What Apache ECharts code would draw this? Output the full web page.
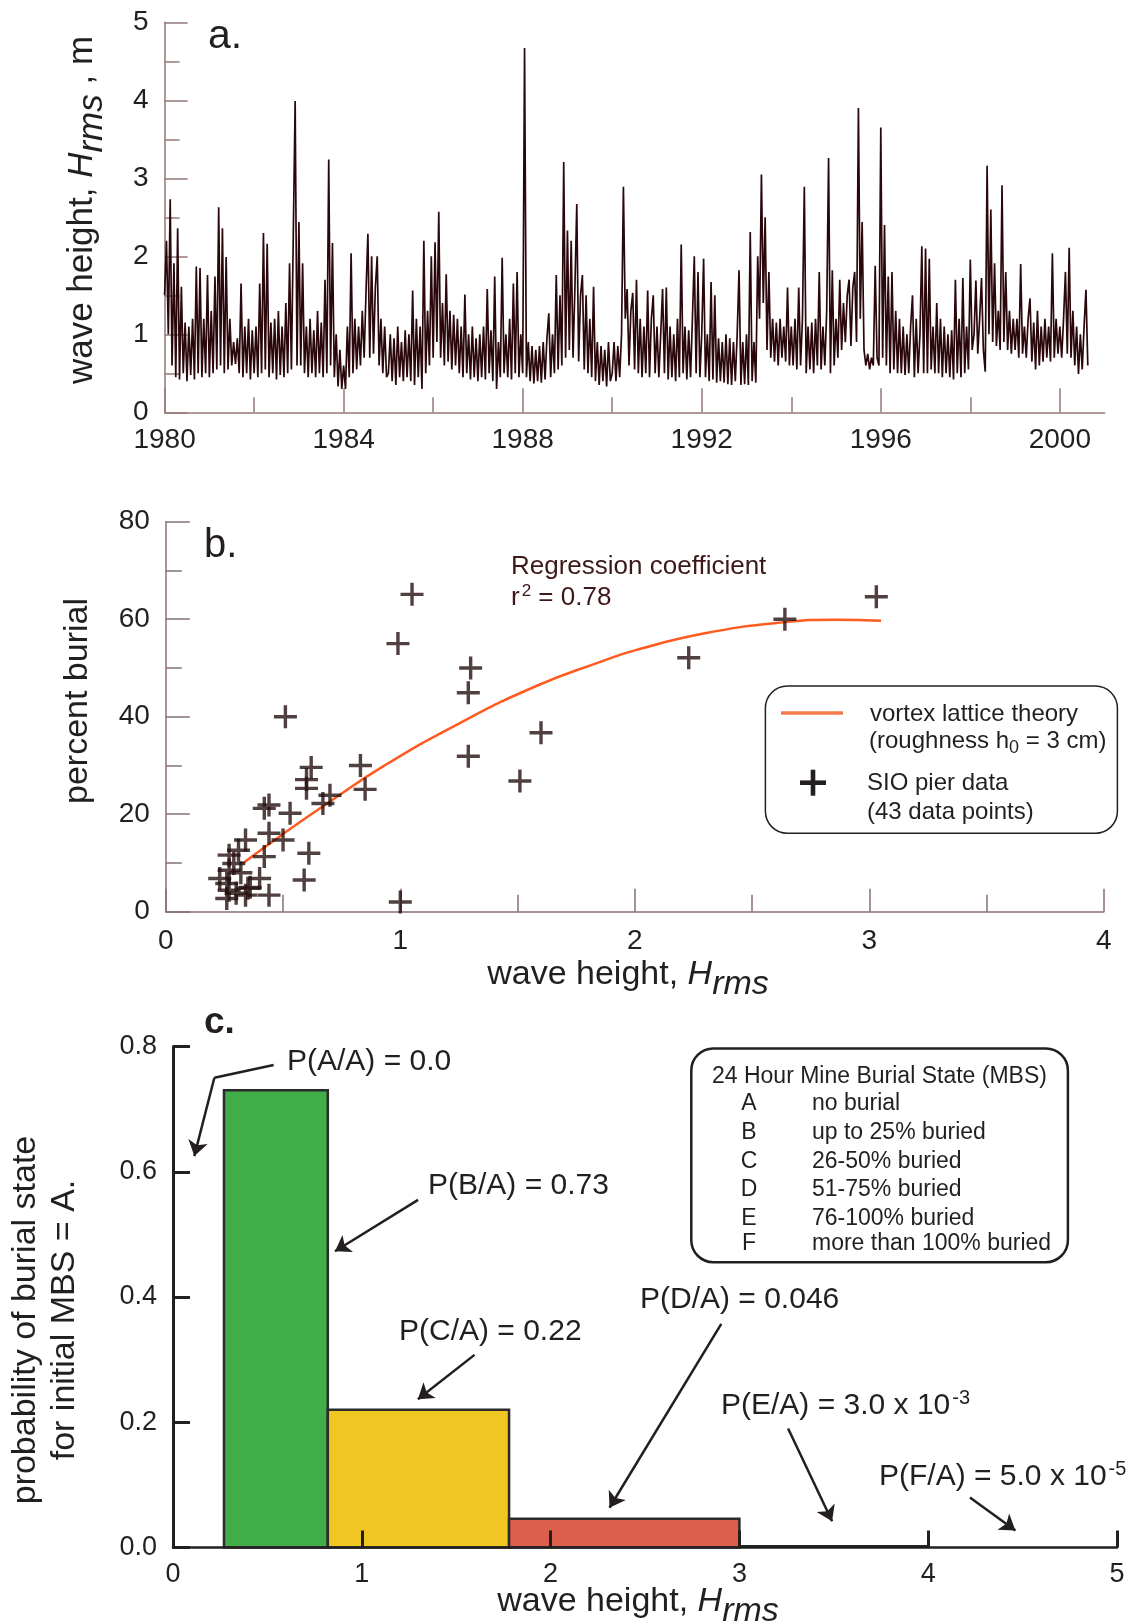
<!DOCTYPE html>
<html><head><meta charset="utf-8">
<script src="https://cdn.jsdelivr.net/npm/echarts@6/dist/echarts.min.js"></script>
<style>html,body{margin:0;padding:0;background:#fff}#c{width:1135px;height:1623px}</style>
</head><body><div id="c"></div>
<script>
// ---------- Panel a: wave height Hrms (m) in half-month steps ----------
const hrmsStartYear = 1980;
const hrmsStepsPerYear = 24;
const hrms1980 = [1.5, 2.2, 1.0, 2.73, 0.6, 1.91, 0.45, 2.36, 0.42, 1.61, 0.5, 1.15, 0.4, 1.1, 0.48, 1.2, 0.42, 1.87, 0.5, 1.85, 0.45, 1.2, 0.5, 1.76];
const hrms1981 = [0.45, 1.3, 0.5, 1.74, 0.55, 2.63, 0.6, 2.36, 0.5, 1.99, 0.55, 1.2, 0.6, 0.9, 0.62, 0.95, 0.5, 1.65, 0.45, 1.1, 0.5, 1.2, 0.42, 1.05];
const hrms1982 = [0.5, 1.1, 0.45, 1.65, 0.5, 2.3, 0.55, 2.16, 0.45, 1.15, 0.5, 1.2, 0.42, 1.3, 0.48, 1.1, 0.45, 1.4, 0.5, 1.91, 0.55, 2.27, 3.99, 0.6];
const hrms1983 = [2.44, 0.6, 1.91, 0.5, 1.1, 0.45, 1.2, 0.5, 1.05, 0.45, 1.3, 0.5, 1.15, 0.45, 1.7, 0.5, 3.24, 0.6, 2.17, 0.45, 1.0, 0.33, 0.8, 0.3];
const hrms1984 = [0.6, 0.3, 1.1, 0.45, 2.04, 0.5, 1.2, 0.55, 1.1, 0.6, 1.3, 0.7, 1.55, 2.29, 0.7, 2.0, 0.75, 1.6, 2.0, 0.6, 1.2, 0.5, 1.1, 0.45];
const hrms1985 = [0.5, 1.0, 0.4, 0.95, 0.35, 1.1, 0.45, 0.9, 0.4, 1.05, 0.45, 1.0, 0.4, 1.56, 0.35, 1.2, 0.45, 1.1, 0.3, 2.2, 0.5, 1.3, 0.6, 2.0];
const hrms1986 = [0.7, 2.18, 0.9, 2.57, 0.7, 1.4, 0.6, 1.77, 0.65, 1.3, 0.55, 1.25, 0.6, 1.2, 0.5, 1.1, 0.45, 1.51, 0.5, 1.0, 0.42, 1.1, 0.45, 0.95];
const hrms1987 = [0.4, 1.0, 0.45, 1.1, 0.42, 1.58, 0.5, 1.05, 0.4, 1.74, 0.3, 0.9, 0.45, 1.98, 0.5, 1.0, 0.45, 1.2, 0.42, 1.65, 0.5, 1.8, 0.45, 1.0];
const hrms1988 = [0.5, 4.67, 0.45, 0.9, 0.4, 0.85, 0.37, 0.8, 0.4, 0.85, 0.38, 0.9, 0.42, 0.95, 1.27, 0.45, 1.0, 0.5, 1.76, 0.55, 1.5, 0.6, 3.21, 0.7];
const hrms1989 = [2.33, 0.8, 2.2, 0.7, 1.6, 2.67, 0.65, 1.5, 1.76, 0.55, 1.5, 0.5, 1.2, 0.45, 1.61, 0.4, 0.9, 0.35, 0.85, 0.4, 0.8, 0.33, 0.9, 0.4];
const hrms1990 = [0.5, 0.9, 0.4, 0.85, 0.45, 1.0, 2.89, 1.2, 1.58, 0.6, 1.3, 1.53, 0.55, 1.7, 0.5, 1.2, 0.45, 1.1, 0.5, 1.56, 0.45, 1.2, 1.5, 0.5];
const hrms1991 = [1.1, 0.45, 1.0, 1.58, 0.5, 1.6, 0.42, 1.1, 0.45, 1.0, 0.4, 1.2, 0.45, 2.15, 0.5, 1.1, 0.42, 1.05, 0.45, 1.2, 2.0, 0.5, 1.8, 0.45];
const hrms1992 = [1.0, 1.97, 0.45, 1.0, 0.4, 1.67, 0.42, 1.5, 0.38, 0.95, 0.4, 0.9, 0.38, 1.0, 0.36, 0.95, 0.35, 0.9, 0.4, 1.0, 1.82, 0.35, 0.9, 0.36];
const hrms1993 = [1.0, 0.35, 2.31, 0.4, 0.9, 0.38, 2.0, 1.2, 3.05, 1.4, 2.5, 0.8, 1.8, 0.7, 1.2, 0.65, 1.15, 0.6, 1.2, 0.7, 1.1, 0.65, 1.6, 0.6];
const hrms1994 = [1.1, 0.6, 1.2, 0.55, 1.6, 0.6, 1.2, 2.89, 0.5, 1.1, 0.55, 1.15, 0.5, 1.2, 0.6, 1.8, 0.55, 1.1, 0.6, 1.3, 3.26, 0.5, 1.82, 0.6];
const hrms1995 = [1.2, 0.7, 1.7, 0.8, 1.4, 0.9, 1.5, 1.7, 0.85, 1.6, 1.8, 0.9, 3.9, 1.2, 2.44, 0.8, 0.6, 0.75, 0.55, 0.7, 0.6, 1.88, 0.7, 0.6];
const hrms1996 = [3.65, 0.7, 2.4, 0.6, 1.74, 0.5, 1.8, 0.55, 1.3, 0.5, 1.2, 0.5, 1.1, 0.48, 1.0, 0.5, 1.1, 1.5, 0.45, 1.2, 0.5, 1.0, 2.13, 0.5];
const hrms1997 = [2.1, 0.5, 1.97, 0.55, 1.1, 0.5, 1.4, 0.5, 1.2, 0.45, 1.1, 0.5, 1.0, 0.45, 1.05, 0.42, 1.7, 0.5, 1.2, 0.45, 1.72, 0.5, 1.1, 0.55];
const hrms1998 = [1.96, 0.8, 1.0, 1.69, 0.75, 1.2, 1.72, 0.8, 0.52, 3.16, 1.0, 2.6, 0.9, 1.91, 0.85, 1.3, 0.8, 2.91, 0.9, 1.8, 0.8, 1.3, 0.75, 1.2];
const hrms1999 = [0.8, 1.2, 0.7, 1.9, 0.75, 1.1, 0.7, 1.2, 1.46, 0.65, 1.15, 0.55, 1.3, 0.6, 1.1, 0.65, 1.2, 0.7, 1.1, 0.65, 2.04, 0.7, 1.2, 0.75];
const hrms2000 = [1.1, 0.7, 1.2, 1.8, 0.75, 2.11, 0.7, 1.3, 0.6, 1.1, 0.49, 1.0, 0.55, 1.1, 1.57, 0.6];
const hrmsByYear = [hrms1980, hrms1981, hrms1982, hrms1983, hrms1984, hrms1985, hrms1986, hrms1987, hrms1988, hrms1989,
  hrms1990, hrms1991, hrms1992, hrms1993, hrms1994, hrms1995, hrms1996, hrms1997, hrms1998, hrms1999, hrms2000];
const yearLabelTicks = [1980, 1984, 1988, 1992, 1996, 2000];
const yearMinorTicks = [1982, 1986, 1990, 1994, 1998];

// ---------- Panel b: percent burial vs wave height (43 SIO pier points) ----------
const burialX = [1.05, 0.99, 1.30, 1.29, 1.29, 0.51, 1.60, 1.51, 0.83, 0.85, 0.62, 0.60, 0.60, 0.70, 0.67, 0.44, 0.42, 0.53, 0.44, 0.50, 0.34, 0.61, 0.42, 0.27, 0.31, 0.29, 0.27, 0.40, 0.59, 0.23, 0.26, 0.35, 0.27, 0.30, 0.44, 0.34, 0.26, 1.00, 0.36, 3.03, 2.64, 2.23, 0.32];
const burialY = [65.1, 55.0, 50.0, 44.9, 31.9, 40.0, 36.7, 26.8, 30.0, 25.1, 29.6, 27.1, 25.3, 23.9, 22.2, 21.9, 21.2, 20.2, 16.1, 14.7, 14.7, 12.0, 11.3, 11.6, 12.6, 9.9, 8.5, 6.8, 6.5, 6.8, 5.8, 4.8, 4.4, 3.8, 3.4, 3.4, 2.7, 2.0, 5.0, 64.6, 60.0, 52.1, 8.0];
const theoryX = [0.33, 0.49, 0.70, 0.93, 1.25, 1.58, 1.85, 2.00, 2.31, 2.64, 2.85, 3.05];
const theoryY = [10.0, 15.6, 22.6, 29.9, 38.6, 46.3, 51.2, 53.6, 57.2, 59.4, 59.9, 59.7];

// ---------- Panel c: probability of burial state for initial MBS = A ----------
const binState = ['B', 'C', 'D', 'E', 'F'];
const binLow = [0.27, 0.82, 1.78, 3.0, 4.0];
const binHigh = [0.82, 1.78, 3.0, 4.0, 5.0];
const binProb = [0.73, 0.22, 0.046, 0.003, 0.00005];

// ---------- styles ----------
const FONT = '"Liberation Sans", Arial, Helvetica, sans-serif';
const INK = '#231f20';
const AX_A = '#957878';
const AX_B = '#867070';
const binFill = ['#41ae4a', '#f0c622', '#db5f4c', '#1a1a1a', 'none'];
const binStroke = ['#2b2b2b', '#2b2b2b', '#2b2b2b', '#1a1a1a', 'none'];

const hrmsData = [];
hrmsByYear.forEach((arr, k) => arr.forEach((v, i) => hrmsData.push([hrmsStartYear + k + i / hrmsStepsPerYear, v])));
const burialData = burialX.map((x, i) => [x, burialY[i]]);
const theoryData = theoryX.map((x, i) => [x, theoryY[i]]);
const binData = binLow.map((lo, i) => [lo, binHigh[i], binProb[i], i]);

// annotation arrows in panel c (data coordinates of panel c)
const arrowLines = [
  {coords: [[0.533, 0.7705], [0.219, 0.750]], symbol: ['none', 'none']},
  {coords: [[0.219, 0.750], [0.113, 0.625]]},
  {coords: [[1.298, 0.555], [0.858, 0.473]]},
  {coords: [[1.597, 0.3076], [1.297, 0.2366]]},
  {coords: [[2.904, 0.357], [2.312, 0.0635]]},
  {coords: [[3.258, 0.190], [3.491, 0.0418]]},
  {coords: [[4.221, 0.080], [4.462, 0.0273]]}
];

const plusPath = 'path://M9.8,0 H13.2 V9.8 H23 V13.2 H13.2 V23 H9.8 V13.2 H0 V9.8 H9.8 Z';

function rich(size, fill) {
  return {
    n: {fontSize: size, fontFamily: FONT, fill: fill},
    i: {fontSize: size, fontFamily: FONT, fontStyle: 'italic', fill: fill},
    sub: {fontSize: size, fontFamily: FONT, fontStyle: 'italic', fill: fill, padding: [20, 0, 0, 0]},
    s0: {fontSize: Math.round(size * 0.75), fontFamily: FONT, fill: fill, padding: [14, 0, 0, 0]},
    sup: {fontSize: Math.round(size * 0.67), fontFamily: FONT, fill: fill, padding: [0, 0, Math.round(size * 0.5), 2]}
  };
}
function T(x, y, text, size, opt) {
  opt = opt || {};
  const fill = opt.fill || INK;
  return {
    type: 'text', x: x, y: y, silent: true, rotation: opt.rotation || 0,
    style: {
      text: text, fontSize: size, fontFamily: FONT, fill: fill,
      fontWeight: opt.weight || 'normal', align: opt.align || 'left', verticalAlign: 'middle',
      lineHeight: opt.lineHeight, rich: opt.rich ? rich(size, fill) : undefined
    }
  };
}

const chart = echarts.init(document.getElementById('c'), null, {width: 1135, height: 1623});

const option = {
  animation: false,
  backgroundColor: '#ffffff',
  grid: [
    {left: 164.6, top: 22.3, width: 940, height: 390},
    {left: 165.8, top: 521.7, width: 938, height: 390},
    {left: 173, top: 1046.5, width: 944, height: 501}
  ],
  xAxis: [
    {gridIndex: 0, type: 'value', position: 'bottom', min: 1980, max: 2001, interval: 4,
      axisLine: {lineStyle: {color: AX_A, width: 1.5}},
      axisTick: {inside: true, length: 24, customValues: yearLabelTicks, lineStyle: {color: AX_A, width: 1.5}},
      axisLabel: {customValues: yearLabelTicks, formatter: v => String(Math.round(v)), fontSize: 28, fontFamily: FONT, color: INK, margin: 14},
      splitLine: {show: false}},
    {gridIndex: 0, type: 'value', position: 'bottom', min: 1980, max: 2001, interval: 4,
      axisLine: {show: false},
      axisTick: {inside: true, length: 15, customValues: yearMinorTicks, lineStyle: {color: AX_A, width: 1.5}},
      axisLabel: {show: false}, splitLine: {show: false}},
    {gridIndex: 1, type: 'value', position: 'bottom', min: 0, max: 4, interval: 1,
      axisLine: {lineStyle: {color: AX_B, width: 1.5}},
      axisTick: {inside: true, length: 23, lineStyle: {color: AX_B, width: 1.5}},
      minorTick: {show: true, splitNumber: 2, length: 17, lineStyle: {color: AX_B, width: 1.5}},
      axisLabel: {fontSize: 28, fontFamily: FONT, color: INK, margin: 16},
      splitLine: {show: false}, minorSplitLine: {show: false}},
    {gridIndex: 2, type: 'value', position: 'bottom', min: 0, max: 5, interval: 1, z: 5,
      axisLine: {lineStyle: {color: INK, width: 2.5}},
      axisTick: {inside: true, length: 17, lineStyle: {color: INK, width: 3}},
      axisLabel: {fontSize: 27, fontFamily: FONT, color: INK, margin: 14},
      splitLine: {show: false}}
  ],
  yAxis: [
    {gridIndex: 0, type: 'value', min: 0, max: 5, interval: 1,
      axisLine: {show: true, lineStyle: {color: AX_A, width: 1.5}},
      axisTick: {show: true, inside: true, length: 23, lineStyle: {color: AX_A, width: 1.5}},
      minorTick: {show: true, splitNumber: 2, length: 15, lineStyle: {color: AX_A, width: 1.5}},
      axisLabel: {fontSize: 28, fontFamily: FONT, color: INK, margin: 16},
      splitLine: {show: false}, minorSplitLine: {show: false}},
    {gridIndex: 1, type: 'value', min: 0, max: 80, interval: 20,
      axisLine: {show: true, lineStyle: {color: AX_B, width: 1.5}},
      axisTick: {show: true, inside: true, length: 24, lineStyle: {color: AX_B, width: 1.5}},
      minorTick: {show: true, splitNumber: 2, length: 16, lineStyle: {color: AX_B, width: 1.5}},
      axisLabel: {fontSize: 28, fontFamily: FONT, color: INK, margin: 16},
      splitLine: {show: false}, minorSplitLine: {show: false}},
    {gridIndex: 2, type: 'value', min: 0, max: 0.8, interval: 0.2, z: 5,
      axisLine: {show: true, lineStyle: {color: INK, width: 3}},
      axisTick: {show: true, inside: true, length: 17, lineStyle: {color: INK, width: 3}},
      axisLabel: {fontSize: 27, fontFamily: FONT, color: INK, margin: 16, formatter: v => v.toFixed(1)},
      splitLine: {show: false}}
  ],
  series: [
    {type: 'line', xAxisIndex: 0, yAxisIndex: 0, data: hrmsData, symbol: 'none', showSymbol: false,
      lineStyle: {color: '#2a070b', width: 1.7}, emphasis: {disabled: true}, silent: true},
    {type: 'line', xAxisIndex: 2, yAxisIndex: 1, data: theoryData, smooth: 0.5, symbol: 'none', showSymbol: false,
      lineStyle: {color: '#ff5a1f', width: 2.5}, emphasis: {disabled: true}, silent: true, z: 2},
    {type: 'scatter', xAxisIndex: 2, yAxisIndex: 1, data: burialData, symbol: plusPath, symbolSize: 23,
      itemStyle: {color: '#24100f'}, emphasis: {disabled: true}, silent: true, z: 3},
    {type: 'custom', xAxisIndex: 3, yAxisIndex: 2, data: binData, encode: {x: [0, 1], y: 2}, silent: true,
      renderItem: function (params, api) {
        const p0 = api.coord([api.value(0), api.value(2)]);
        const p1 = api.coord([api.value(1), 0]);
        const k = api.value(3);
        return {type: 'rect', shape: {x: p0[0], y: p0[1], width: p1[0] - p0[0], height: p1[1] - p0[1]},
          style: {fill: binFill[k], stroke: binStroke[k], lineWidth: k === 3 ? 1 : 2.5}};
      }},
    {type: 'lines', coordinateSystem: 'cartesian2d', xAxisIndex: 3, yAxisIndex: 2, silent: true,
      symbol: ['none', 'arrow'], symbolSize: 15, data: arrowLines,
      lineStyle: {color: INK, width: 2.5, opacity: 1, curveness: 0}, z: 6}
  ],
  graphic: [
    // panel letters
    T(208, 37, 'a.', 41),
    T(204, 546, 'b.', 40),
    T(204, 1023, 'c.', 37, {weight: 'bold'}),
    // panel a y title
    T(82, 210, '{n|wave height, }{i|H}{sub|rms}{n| , m}', 35, {rotation: Math.PI / 2, align: 'center', rich: true}),
    // panel b titles
    T(78, 701, 'percent burial', 34, {rotation: Math.PI / 2, align: 'center'}),
    T(628, 975, '{n|wave height, }{i|H}{sub|rms}', 34, {align: 'center', rich: true}),
    T(511, 567, 'Regression coefficient', 26, {fill: '#3d1818'}),
    T(511, 598, '{n|r}{sup|2}{n| = 0.78}', 26, {rich: true, fill: '#3d1818'}),
    // panel b legend
    {type: 'rect', silent: true, shape: {x: 765.4, y: 686, width: 352, height: 147.3, r: 22}, style: {fill: 'none', stroke: INK, lineWidth: 1.5}},
    {type: 'line', silent: true, shape: {x1: 781, y1: 713, x2: 843, y2: 713}, style: {stroke: '#f47a4c', lineWidth: 3.5}},
    {type: 'rect', silent: true, shape: {x: 800, y: 780.4, width: 26, height: 4.6}, style: {fill: INK}},
    {type: 'rect', silent: true, shape: {x: 810.7, y: 769.7, width: 4.6, height: 26}, style: {fill: INK}},
    T(870, 714, 'vortex lattice theory', 24),
    T(869, 741, '{n|(roughness h}{s0|0}{n| = 3 cm)}', 24, {rich: true}),
    T(867, 783, 'SIO pier data', 24),
    T(867, 812, '(43 data points)', 24),
    // panel c titles
    T(45, 1320, 'probability of burial state\nfor initial MBS = A.', 34, {rotation: Math.PI / 2, align: 'center', lineHeight: 38.4}),
    T(638, 1602, '{n|wave height, }{i|H}{sub|rms}', 34, {align: 'center', rich: true}),
    // panel c annotations
    T(287, 1062, 'P(A/A) = 0.0', 30),
    T(428, 1186, 'P(B/A) = 0.73', 30),
    T(399, 1332, 'P(C/A) = 0.22', 30),
    T(640, 1300, 'P(D/A) = 0.046', 30),
    T(721, 1406, '{n|P(E/A) = 3.0 x 10}{sup|-3}', 30, {rich: true}),
    T(879, 1477, '{n|P(F/A) = 5.0 x 10}{sup|-5}', 30, {rich: true}),
    // panel c legend
    {type: 'rect', silent: true, shape: {x: 691.3, y: 1048.5, width: 376.6, height: 213.7, r: 22}, style: {fill: '#fff', stroke: INK, lineWidth: 2.5}},
    T(712, 1077, '24 Hour Mine Burial State (MBS)', 23),
    T(749, 1104, 'A', 23, {align: 'center'}), T(812, 1104, 'no burial', 23),
    T(749, 1133, 'B', 23, {align: 'center'}), T(812, 1133, 'up to 25% buried', 23),
    T(749, 1162, 'C', 23, {align: 'center'}), T(812, 1162, '26-50% buried', 23),
    T(749, 1190, 'D', 23, {align: 'center'}), T(812, 1190, '51-75% buried', 23),
    T(749, 1218.5, 'E', 23, {align: 'center'}), T(812, 1218.5, '76-100% buried', 23),
    T(749, 1244, 'F', 23, {align: 'center'}), T(812, 1244, 'more than 100% buried', 23)
  ]
};
chart.setOption(option);
</script>
</body></html>
